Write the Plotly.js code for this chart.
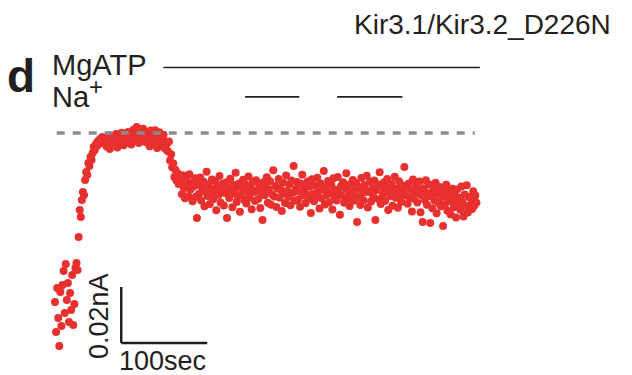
<!DOCTYPE html>
<html>
<head>
<meta charset="utf-8">
<script src="https://cdn.plot.ly/plotly-3.0.1.min.js"></script>
<style>
  html, body { margin: 0; padding: 0; background: #ffffff; }
  #chart { width: 632px; height: 375px; }
</style>
</head>
<body>
<div id="chart"></div>
<script>
// ---- Data (current in pA, sampled every 1.25 s starting at t = 0 s) ----
const sampleStart = 0;      // s
const sampleInterval = 1.25; // s

const currentEarly = [19.6, 8.9, 24.6, 13.9, 3.9, 23.2, 11.1, 25.7, 30.7, 15.7, 33.2,
  20.4, 26.4, 12.5, 22.9, 16.8, 29.3, 11.4, 18.9, 31.8, 33.6, 31.1];

const currentRise = [42.9, 52.5, 50.0, 56.1, 58.9, 57.9, 63.2, 66.1, 65.0, 69.3, 68.2,
  71.4, 70.4, 72.9, 75.0, 73.9, 76.1, 75.4, 77.1, 76.1, 77.9, 76.8, 78.6, 77.5, 76.4];

const currentPlateau = [77.8, 75.2, 78.9, 76.5, 74.3, 79.1, 77.2, 75.8, 78.4, 76.9,
  79.6, 74.8, 77.5, 78.8, 76.2, 80.1, 77.9, 75.6, 79.3, 78.1,
  76.7, 80.4, 77.3, 79.8, 75.9, 78.6, 81.2, 77.7, 79.4, 82.1,
  78.3, 76.4, 80.7, 79.0, 77.6, 81.5, 78.9, 76.8, 80.2, 78.4,
  79.7, 75.3, 80.9, 78.0, 76.6, 79.5, 81.0, 77.4, 74.6, 79.1,
  80.3, 76.9, 78.7, 75.1, 79.4, 77.0, 74.2];

const currentDrop = [76.1, 73.5, 77.0, 70.2, 72.4, 67.8, 69.1, 64.3, 66.9, 63.0, 65.6, 61.8, 64.7];

const currentSteady = [
  62.4, 58.1, 64.9, 60.3, 56.7, 63.5, 61.2, 57.4, 65.3, 59.8,
  62.1, 55.6, 60.9, 63.8, 57.2, 49.6, 61.5, 58.3, 64.1, 55.9,
  60.4, 62.7, 53.8, 59.1, 66.2, 57.5, 61.8, 54.6, 60.2, 63.4,
  56.3, 58.8, 62.9, 52.4, 60.7, 57.9, 64.6, 55.2, 59.4, 61.9,
  54.1, 58.6, 62.3, 49.6, 60.1, 56.8, 63.7, 58.2, 53.5, 61.4,
  59.7, 65.8, 55.4, 57.6, 62.0, 51.9, 60.6, 58.4, 63.3, 56.1,
  61.7, 54.8, 59.2, 64.5, 57.0, 60.8, 52.8, 62.6, 58.9, 55.7,
  63.1, 59.5, 56.4, 61.3, 53.2, 58.7, 48.9, 62.4, 57.8, 60.5,
  64.2, 55.1, 59.9, 62.8, 54.4, 58.0, 66.7, 57.3, 61.1, 53.6,
  60.2, 63.6, 56.9, 59.6, 52.1, 62.2, 58.5, 55.0, 64.8, 59.3,
  57.1, 61.6, 54.2, 63.0, 58.6, 68.2, 55.8, 60.0, 62.5, 56.2,
  59.0, 53.7, 61.9, 65.1, 57.7, 60.4, 54.9, 58.1, 62.7, 56.5,
  60.9, 51.4, 63.5, 58.3, 55.6, 61.2, 57.4, 64.0, 59.1, 53.0,
  62.0, 56.7, 59.8, 66.4, 54.5, 60.6, 57.9, 62.9, 55.3, 58.8,
  61.5, 52.7, 63.8, 57.2, 59.7, 55.9, 64.3, 58.4, 50.8, 61.0,
  57.6, 62.4, 55.1, 60.3, 65.6, 56.6, 59.2, 53.9, 61.8, 58.2,
  63.2, 55.8, 59.5, 62.1, 48.2, 57.0, 60.7, 54.3, 63.9, 58.6,
  56.0, 61.4, 59.0, 64.7, 53.4, 58.9, 62.6, 55.5, 60.1, 57.3,
  63.0, 48.9, 59.6, 61.7, 56.3, 66.0, 54.6, 60.8, 58.1, 62.3,
  55.7, 59.3, 63.6, 52.5, 60.5, 57.5, 61.9, 54.0, 58.7, 64.4,
  56.9, 60.2, 53.3, 62.8, 58.0, 55.4, 61.3, 59.4, 67.9, 57.7,
  60.6, 54.7, 62.0, 57.1, 59.9, 52.0, 63.4, 56.5, 58.4, 61.1,
  55.2, 59.7, 62.7, 51.7, 57.8, 48.2, 60.3, 56.1, 63.1, 54.4,
  58.5, 61.6, 47.9, 57.4, 53.1, 60.0, 55.9, 62.2, 51.3, 58.3,
  55.0, 60.7, 53.8, 57.2, 46.8, 59.4, 54.6, 61.5, 52.2, 56.8,
  58.9, 50.9, 55.6, 60.1, 53.5, 57.5, 49.8, 59.8, 54.8, 56.9,
  52.6, 60.9, 55.4, 50.2, 58.0, 53.9, 61.3, 51.6, 57.1, 54.2,
  56.6, 52.9, 59.2, 54.0, 57.7, 55.1];

// Reference level (dashed), application bars (s), scale bars
const maxLevel = 80;               // pA, dashed line
const maxLevelSpan = [2, 488];     // s
const mgatpBar = [126, 494];       // s
const naBars = [[221, 284], [328, 404]]; // s
const scaleTime = 100;             // s
const scaleCurrent = 20;           // pA (0.02 nA)
const scaleOrigin = [77, 5];       // s, pA

const title = "Kir3.1/Kir3.2_D226N";
const panelLabel = "d";
const mgatpLabel = "MgATP";
const naLabel = "Na<sup><span style='font-size:24px'>+</span></sup>";
const scaleCurrentLabel = "0.02nA";
const scaleTimeLabel = "100sec";

const current = [].concat(currentEarly, currentRise, currentPlateau, currentDrop, currentSteady);

const RED = "#e8302f";
const INK = "#231f20";
const FONT = "Liberation Sans, Arial, Helvetica, sans-serif";

// data-coord rows for the application bars (above the trace)
const mgatpY = 103.4;
const naY = 92.9;

const trace = {
  type: "scatter",
  mode: "markers",
  x0: sampleStart,
  dx: sampleInterval,
  y: current,
  marker: { color: RED, size: 8, line: { width: 0 } },
  hoverinfo: "skip"
};

const shapes = [
  { type: "line", xref: "x", yref: "y", x0: maxLevelSpan[0], x1: maxLevelSpan[1], y0: maxLevel, y1: maxLevel,
    line: { color: "#8a8a8a", width: 3.5, dash: "8px,8px" }, layer: "above" },
  { type: "line", xref: "x", yref: "y", x0: mgatpBar[0], x1: mgatpBar[1], y0: mgatpY, y1: mgatpY,
    line: { color: INK, width: 1.6 } },
  { type: "line", xref: "x", yref: "y", x0: naBars[0][0], x1: naBars[0][1], y0: naY, y1: naY,
    line: { color: INK, width: 1.8 } },
  { type: "line", xref: "x", yref: "y", x0: naBars[1][0], x1: naBars[1][1], y0: naY, y1: naY,
    line: { color: INK, width: 1.8 } },
  { type: "line", xref: "x", yref: "y", x0: scaleOrigin[0], x1: scaleOrigin[0],
    y0: scaleOrigin[1], y1: scaleOrigin[1] + scaleCurrent, line: { color: INK, width: 2.5 } },
  { type: "line", xref: "x", yref: "y", x0: scaleOrigin[0], x1: scaleOrigin[0] + scaleTime,
    y0: scaleOrigin[1], y1: scaleOrigin[1], line: { color: INK, width: 2.5 } }
];

function px(x) { return x / 632; }
function py(y) { return 1 - y / 375; }

const annotations = [
  { text: title, xref: "paper", yref: "paper", x: px(613), y: py(24), xanchor: "right", yanchor: "middle",
    showarrow: false, font: { family: FONT, size: 28, color: INK } },
  { text: "<b>" + panelLabel + "</b>", xref: "paper", yref: "paper", x: px(5), y: py(76), xanchor: "left", yanchor: "middle",
    showarrow: false, font: { family: FONT, size: 46, color: INK } },
  { text: mgatpLabel, xref: "paper", yref: "paper", x: px(50), y: py(65), xanchor: "left", yanchor: "middle",
    showarrow: false, font: { family: FONT, size: 29, color: INK } },
  { text: naLabel, xref: "paper", yref: "paper", x: px(50), y: py(93), xanchor: "left", yanchor: "middle",
    showarrow: false, font: { family: FONT, size: 29, color: INK } },
  { text: scaleCurrentLabel, xref: "paper", yref: "paper", x: px(99), y: py(316), xanchor: "center", yanchor: "middle",
    textangle: -90, showarrow: false, font: { family: FONT, size: 27, color: INK } },
  { text: scaleTimeLabel, xref: "paper", yref: "paper", x: px(117), y: py(361), xanchor: "left", yanchor: "middle",
    showarrow: false, font: { family: FONT, size: 27, color: INK } }
];

const layout = {
  width: 632,
  height: 375,
  margin: { l: 0, r: 0, t: 0, b: 0, pad: 0 },
  paper_bgcolor: "#ffffff",
  plot_bgcolor: "#ffffff",
  showlegend: false,
  xaxis: { range: [-63.95, 670.9], visible: false, fixedrange: true },
  yaxis: { range: [-6.43, 127.5], visible: false, fixedrange: true },
  shapes: shapes,
  annotations: annotations
};

Plotly.newPlot("chart", [trace], layout, { staticPlot: true, displayModeBar: false });
</script>
</body>
</html>
